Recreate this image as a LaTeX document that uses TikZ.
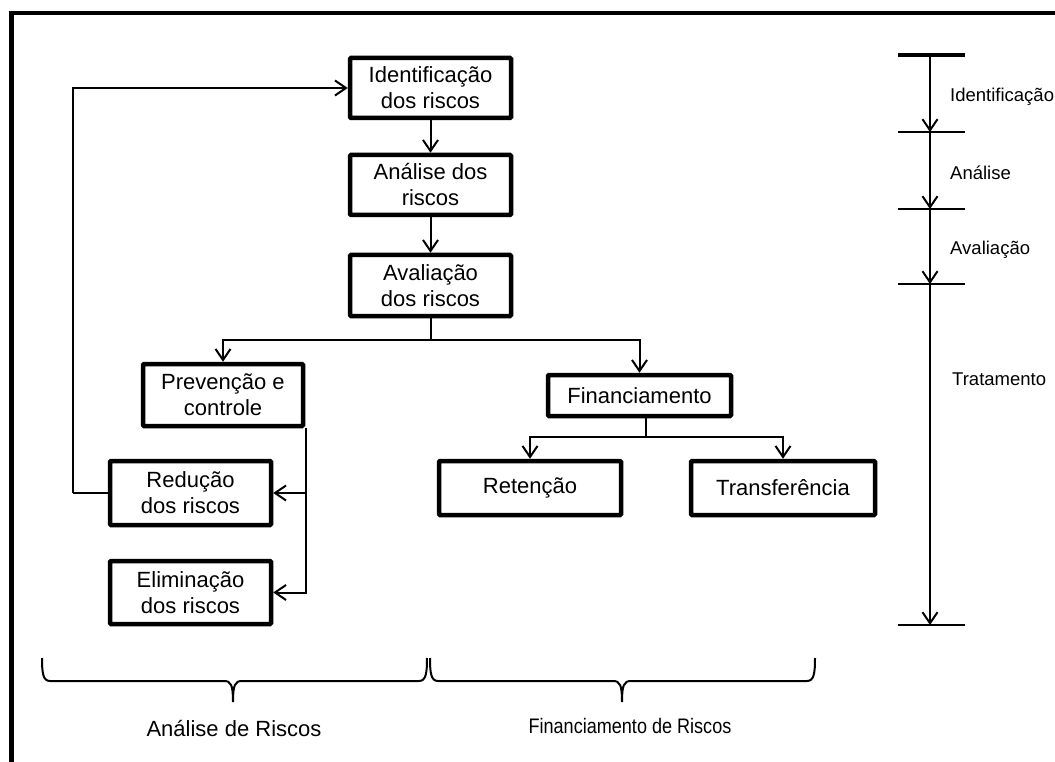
\documentclass[tikz,border=0pt]{standalone}
\usepackage{fontspec}
\usepackage{graphicx}
\setmainfont{Liberation Sans}
\usetikzlibrary{arrows.meta}
\tikzset{
  box/.style={draw, line width=4.5pt, rounded corners=1pt, align=center, inner sep=0pt,
    font=\fontsize{22}{26}\selectfont},
  conn/.style={line width=2pt},
  arr/.style={line width=2pt, -{Straight Barb[length=11pt,width=15pt]}},
  tick/.style={line width=2.5pt},
  lbl/.style={anchor=west, inner sep=0pt, font=\fontsize{18.5}{21}\selectfont},
  brace/.style={line width=2pt},
  blbl/.style={inner sep=0pt}
}
\begin{document}
\begin{tikzpicture}[x=1pt,y=-1pt]
\useasboundingbox (0,0) rectangle (1055,762);
\clip (0,0) rectangle (1055,762);
\fill[white] (0,0) rectangle (1055,762);
% frame
\draw[line width=4.5pt] (11.5,13) rectangle (1080,790);

% boxes
\node[box, minimum width=161pt, minimum height=60pt] (ident) at (430.5,88) {Identificação\\dos riscos};
\node[box, minimum width=161pt, minimum height=60pt] (anal) at (430.5,185) {Análise dos\\riscos};
\node[box, minimum width=161pt, minimum height=61pt] (aval) at (430.5,285.5) {Avaliação\\dos riscos};
\node[box, minimum width=160pt, minimum height=62pt] (prev) at (223,395) {Prevenção e\\controle};
\node[box, minimum width=161pt, minimum height=64pt] (red) at (190.5,493) {Redução\\dos riscos};
\node[box, minimum width=161pt, minimum height=63pt] (elim) at (190.5,592.5) {Eliminação\\dos riscos};
\node[box, minimum width=183pt, minimum height=41pt] (fin) at (639.5,395.5) {Financiamento};
\node[box, minimum width=182pt, minimum height=54pt] (ret) at (530,488) {Retenção};
\node[box, minimum width=184pt, minimum height=54pt] (trans) at (783,488) {Transferência};

% main chain
\draw[arr] (ident) -- (anal);
\draw[arr] (anal) -- (aval);
\coordinate (avj) at (430.5,340);
\draw[conn] (aval.south) -- (avj);
\draw[arr] (avj) -| (prev.north);
\draw[arr] (avj) -| (fin.north);

% prevention branch
\coordinate (pj) at (306,428);
\draw[arr] (pj) |- (elim.east);
\draw[arr] (pj |- red.east) -- (red.east);

% feedback
\coordinate (fb) at (73,493);
\draw[conn] (red.west) -- (fb);
\draw[arr] (fb) |- (ident.west);

% financing branch
\coordinate (ftop) at (646,418);
\coordinate (fj) at (646,437);
\draw[conn] (ftop) -- (fj);
\draw[arr] (fj) -| (ret.north);
\draw[arr] (fj) -| (trans.north);

% timeline
\coordinate (t0) at (930,55);
\coordinate (t1) at (930,132);
\coordinate (t2) at (930,209);
\coordinate (t3) at (930,284);
\coordinate (t4) at (930,625);
\draw[line width=3.5pt] (898,55) -- (965,55);
\draw[tick] (898,132) -- (965,132);
\draw[tick] (898,209) -- (965,209);
\draw[tick] (898,284) -- (965,284);
\draw[tick] (898,625) -- (965,625);
\draw[arr] (t0) -- (t1);
\draw[arr] (t1) -- (t2);
\draw[arr] (t2) -- (t3);
\draw[arr] (t3) -- (t4);
\node[lbl] (l1) at (950,97) {Identificação};
\node[lbl] (l2) at (950,173) {Análise};
\node[lbl] (l3) at (950,250) {Avaliação};
\node[lbl] (l4) at (952,379) {Tratamento};

% braces
\draw[brace] (42,658) .. controls (42,673) and (43,681) .. (50,681) -- (224,681)
  .. controls (231,681) and (233,685) .. (233,702)
  .. controls (233,685) and (235,681) .. (242,681) -- (419,681)
  .. controls (426,681) and (427,673) .. (427,658);
\draw[brace] (430,658) .. controls (430,673) and (431,681) .. (438,681) -- (613,681)
  .. controls (620,681) and (622,685) .. (622,702)
  .. controls (622,685) and (624,681) .. (631,681) -- (807,681)
  .. controls (814,681) and (815,673) .. (815,658);
\node[blbl, font=\fontsize{22}{25}\selectfont] (b1) at (234,729) {Análise de Riscos};
\node[blbl, font=\fontsize{21}{24}\selectfont] (b2) at (630,726) {\scalebox{0.86}[1]{Financiamento de Riscos}};
\end{tikzpicture}
\end{document}
